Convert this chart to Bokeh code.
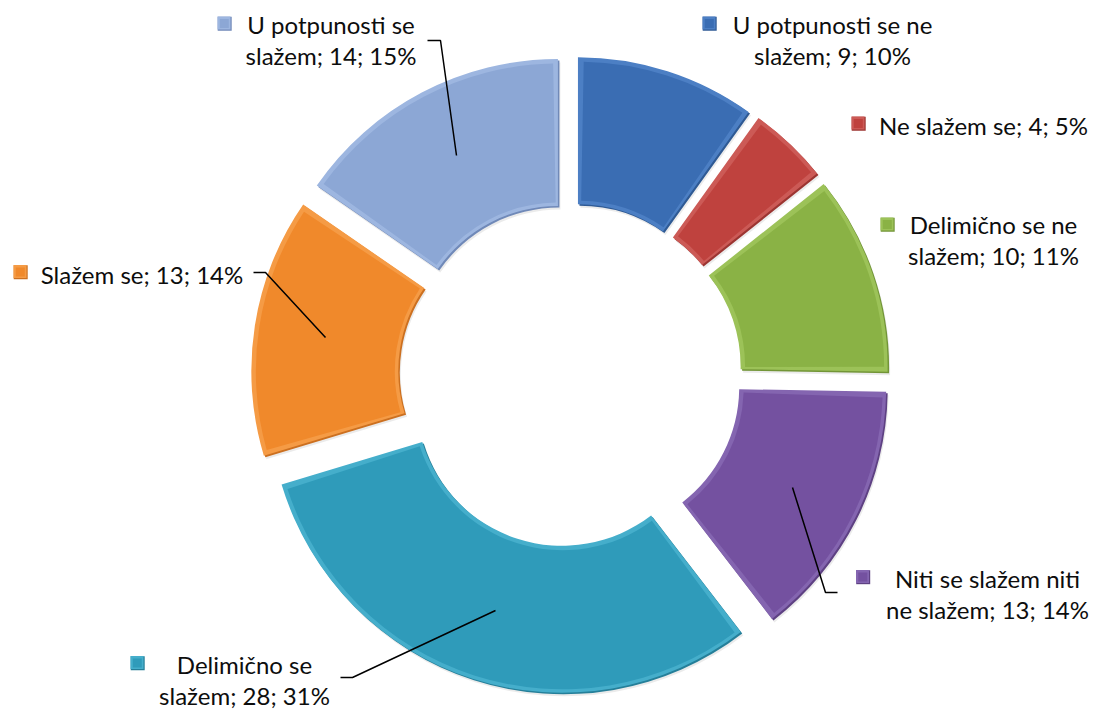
import math
from bokeh.plotting import figure
from bokeh.models import Range1d
from bokeh.core.properties import value
from bokeh.embed import file_html
from bokeh.resources import INLINE

# ---------------- data ----------------
categories = ["U potpunosti se ne slažem", "Ne slažem se", "Delimično se ne slažem",
              "Niti se slažem niti ne slažem", "Delimično se slažem", "Slažem se",
              "U potpunosti se slažem"]
counts = [9, 4, 10, 13, 28, 13, 14]
percents = [10, 5, 11, 14, 31, 14, 15]

# ---------------- styles ----------------
base_colors = ["#3A6DB3", "#BF423E", "#8AB245", "#7451A0", "#2F9BBA", "#F0892B", "#8CA7D5"]
light_colors = ["#4C7FC4", "#CC5A56", "#9CC258", "#8465B0", "#45AECB", "#F59B45", "#9DB6E0"]
dark_colors = ["#2F5A94", "#9C3532", "#729537", "#5E4183", "#257F99", "#CC7020", "#7089B8"]

# ---------------- layout (image pixels, y down) ----------------
W, H = 1096, 709
CX, CY = 570, 375
R_OUT, R_IN, EXPLODE = 293, 146, 26
INSET = 4

# label: (center x of text, y of first line), square (x, y), words on first line
label_pos = [(832, 24), (983, 125), (993, 224), (987, 578), (244, 664), (141.5, 274), (330.5, 24)]
square_pos = [(708.5, 22.5), (857.5, 122.5), (886.5, 223.5), (862, 576), (136.5, 662), (19.5, 271), (223.5, 22.5)]
first_line_words = [4, None, 3, 4, 2, None, 3]
LINE_STEP = 31
leaders = [
    None, None, None,
    [(837, 592), (825, 592), (792, 487)],
    [(340, 677), (352, 677), (495, 610)],
    [(253, 272), (265, 272), (325, 337)],
    [(427, 40), (440, 40), (456, 155)],
]


def Y(img_y):
    return H - img_y


p = figure(width=W, height=H, x_range=Range1d(0, W), y_range=Range1d(0, H),
           output_backend="svg", toolbar_location=None, min_border=0,
           x_axis_type=None, y_axis_type=None)
p.grid.visible = False
p.outline_line_color = None
p.background_fill_color = "white"
p.border_fill_color = "white"

total = sum(counts)
cum = 0.0
xs, ys, starts, ends = [], [], [], []
for v in counts:
    t0 = cum / total * 2 * math.pi
    cum += v
    t1 = cum / total * 2 * math.pi
    tm = (t0 + t1) / 2
    xs.append(CX + EXPLODE * math.sin(tm))
    ys.append(Y(CY) + EXPLODE * math.cos(tm))
    starts.append(math.pi / 2 - t0)
    ends.append(math.pi / 2 - t1)

# shadow
p.annular_wedge(x=[x + 2 for x in xs], y=[y - 3 for y in ys], inner_radius=R_IN, outer_radius=R_OUT,
                start_angle=starts, end_angle=ends, direction="clock",
                fill_color="black", fill_alpha=0.08, line_color=None)
# dark rim
p.annular_wedge(x=[x + 1 for x in xs], y=[y - 1 for y in ys], inner_radius=R_IN, outer_radius=R_OUT,
                start_angle=starts, end_angle=ends, direction="clock",
                fill_color=dark_colors, line_color=None)
# light rim
p.annular_wedge(x=[x - 0.5 for x in xs], y=[y + 0.5 for y in ys], inner_radius=R_IN, outer_radius=R_OUT,
                start_angle=starts, end_angle=ends, direction="clock",
                fill_color=light_colors, line_color=None)
# face
da = INSET / ((R_IN + R_OUT) / 2)
p.annular_wedge(x=xs, y=ys, inner_radius=R_IN + INSET, outer_radius=R_OUT - INSET,
                start_angle=[s - da for s in starts], end_angle=[e + da for e in ends],
                direction="clock", fill_color=base_colors, line_color=None)

# leader lines
for ld in leaders:
    if ld:
        p.line(x=[a for a, b in ld], y=[Y(b) for a, b in ld], line_color="black", line_width=1.5)

# labels
tx, ty, tt = [], [], []
for i, cat in enumerate(categories):
    label = f"{cat}; {counts[i]}; {percents[i]}%"
    k = first_line_words[i]
    if k is None:
        lines = [label]
    else:
        w = label.split(" ")
        lines = [" ".join(w[:k]), " ".join(w[k:])]
    lx, lb = label_pos[i]
    for j, ln in enumerate(lines):
        tx.append(lx)
        ty.append(Y(lb + j * LINE_STEP))
        tt.append(ln)
p.text(x=tx, y=ty, text=tt, text_font=value("Lato"), text_font_size="24px",
       text_align="center", text_baseline="alphabetic", text_color="#0d0d0d")

# legend keys
p.scatter(x=[s[0] + 0.7 for s in square_pos], y=[Y(s[1]) - 0.7 for s in square_pos], marker="square",
          size=14, fill_color=dark_colors, line_color=None)
p.scatter(x=[s[0] for s in square_pos], y=[Y(s[1]) for s in square_pos], marker="square",
          size=13, fill_color=light_colors, line_color=None)
p.scatter(x=[s[0] + 0.3 for s in square_pos], y=[Y(s[1]) - 0.5 for s in square_pos], marker="square",
          size=9, fill_color=base_colors, line_color=None)

open("out.html", "w").write(file_html(p, INLINE))
